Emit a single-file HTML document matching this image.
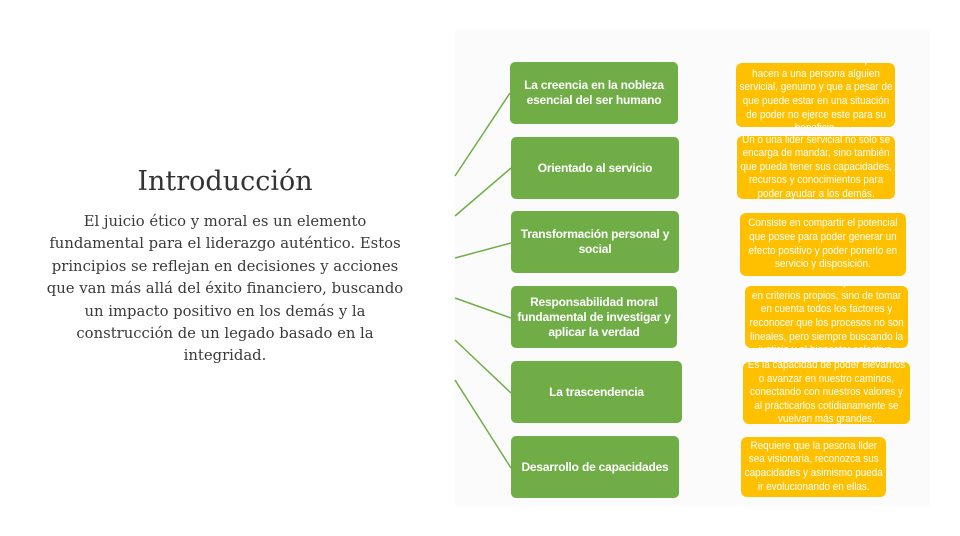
<!DOCTYPE html>
<html><head><meta charset="utf-8"><style>
body{margin:0;width:960px;height:536px;background:#fff;position:relative;overflow:hidden;font-family:"Liberation Sans",sans-serif}
.panel{position:absolute;left:455px;top:30px;width:475px;height:476px;background:#fbfbfb}
.g{position:absolute;background:#70ad47;border-radius:5px;color:#fff;font-weight:bold;font-size:12px;line-height:15px;display:flex;align-items:center;justify-content:center;text-align:center;padding:0 4px;box-sizing:border-box;letter-spacing:-0.2px}
.y{position:absolute;background:#ffc000;border-radius:6px;color:#fff;font-size:11px;line-height:13.6px;display:flex;align-items:center;justify-content:center;text-align:center;box-sizing:border-box;overflow:hidden}
.y span{display:inline-block;white-space:nowrap;transform:scaleX(0.9)}
.t{position:absolute;left:0;width:450px;text-align:center;font-family:"DejaVu Serif",serif;color:#333;white-space:nowrap}
</style></head><body>
<div class="panel"></div>
<div class="t" style="top:166px;font-size:27px;">Introducción</div>
<div class="t" style="top:211px;font-size:14.8px;line-height:22.4px;color:#3a3a3a">El juicio ético y moral es un elemento<br>fundamental para el liderazgo auténtico. Estos<br>principios se reflejan en decisiones y acciones<br>que van más allá del éxito financiero, buscando<br>un impacto positivo en los demás y la<br>construcción de un legado basado en la<br>integridad.</div>
<svg style="position:absolute;left:0;top:0" width="960" height="536">
<g stroke="#70ad47" stroke-width="1.5">
<line x1="455" y1="176" x2="510" y2="93"/>
<line x1="455" y1="216" x2="511" y2="168"/>
<line x1="455" y1="258" x2="511" y2="243"/>
<line x1="455" y1="298" x2="511" y2="318"/>
<line x1="455" y1="340" x2="511" y2="393"/>
<line x1="455" y1="380" x2="511" y2="468"/>
</g></svg>
<div class="g" style="left:510px;top:62px;width:168px;height:62px">La creencia en la nobleza esencial del ser humano</div>
<div class="g" style="left:511px;top:137px;width:168px;height:62px">Orientado al servicio</div>
<div class="g" style="left:511px;top:211px;width:168px;height:62px">Transformación personal y social</div>
<div class="g" style="left:511px;top:286px;width:166px;height:62px">Responsabilidad moral fundamental de investigar y aplicar la verdad</div>
<div class="g" style="left:511px;top:361px;width:171px;height:62px">La trascendencia</div>
<div class="g" style="left:511px;top:436px;width:168px;height:62px">Desarrollo de capacidades</div>
<div class="y" style="left:736px;top:63px;width:159px;height:64px"><span>Se trata de los atributos que<br>hacen a una persona alguien<br>servicial, genuino y que a pesar de<br>que puede estar en una situación<br>de poder no ejerce este para su<br>beneficio.</span></div>
<div class="y" style="left:737px;top:136px;width:158px;height:63px"><span>Un o una lider servicial no solo se<br>encarga de mandar, sino también<br>que pueda tener sus capacidades,<br>recursos y conocimientos para<br>poder ayudar a los demás.</span></div>
<div class="y" style="left:740px;top:213px;width:166px;height:63px"><span>Consiste en compartir el potencial<br>que posee para poder generar un<br>efecto positivo y poder ponerlo en<br>servicio y disposición.</span></div>
<div class="y" style="left:745px;top:286px;width:163px;height:62px"><span>No se trata emitir un juicio basado<br>en criterios propios, sino de tomar<br>en cuenta todos los factores y<br>reconocer que los procesos no son<br>lineales, pero siempre buscando la<br>justicia y el bienestar colectivo.</span></div>
<div class="y" style="left:743px;top:362px;width:167px;height:62px"><span>Es la capacidad de poder elevarnos<br>o avanzar en nuestro caminos,<br>conectando con nuestros valores y<br>al prácticarlos cotidianamente se<br>vuelvan más grandes.</span></div>
<div class="y" style="left:741px;top:437px;width:145px;height:60px"><span>Requiere que la pesona lider<br>sea visionaria, reconozca sus<br>capacidades y asimismo pueda<br>ir evolucionando en ellas.</span></div>
</body></html>
